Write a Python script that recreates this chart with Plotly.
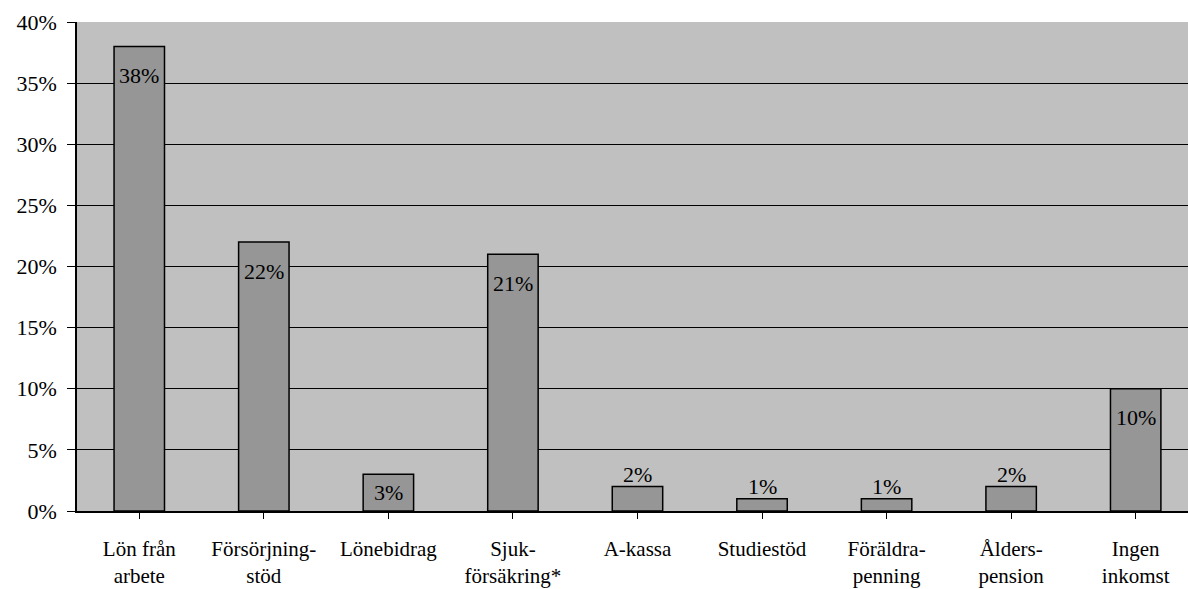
import plotly.graph_objects as go

# Income sources (share of respondents)
categories = ["Lön från<br>arbete", "Försörjning-<br>stöd", "Lönebidrag", "Sjuk-<br>försäkring*",
              "A-kassa", "Studiestöd", "Föräldra-<br>penning", "Ålders-<br>pension", "Ingen<br>inkomst"]
values = [38, 22, 3, 21, 2, 1, 1, 2, 10]
inside = [True, True, True, True, False, False, False, False, True]
y_ticks = [0, 5, 10, 15, 20, 25, 30, 35, 40]

FONT = "'Liberation Serif', 'Times New Roman', 'DejaVu Serif', serif"
W, H = 1188, 589
M_L, M_R, M_T, M_B = 77, 0, 22, 78
Y_MAX = 40
px_per_unit = (H - M_T - M_B) / Y_MAX

x = list(range(len(categories)))

fig = go.Figure(go.Bar(
    x=x, y=values, width=0.405,
    marker=dict(color="#969696", line=dict(color="#000000", width=1.5)),
    hoverinfo="skip",
))

# value labels: inside near the top for tall bars, above for short ones
for xi, v, ins in zip(x, values, inside):
    if ins:
        shift = -min(29, v * px_per_unit / 2)
    else:
        shift = 12
    fig.add_annotation(x=xi, y=v, text=f"{v}%", showarrow=False,
                       yanchor="middle", yshift=shift,
                       font=dict(family=FONT, size=22, color="#000000"))

fig.update_layout(
    width=W, height=H,
    margin=dict(l=M_L, r=M_R, t=M_T, b=M_B, pad=0),
    paper_bgcolor="#ffffff", plot_bgcolor="#c0c0c0",
    showlegend=False,
    font=dict(family=FONT, color="#000000"),
    xaxis=dict(
        range=[-0.5, 8.42], tickmode="array", tickvals=x, ticktext=categories,
        tickson="boundaries", ticks="outside", ticklen=6, tickcolor="#000000", tickwidth=1,
        showline=True, linecolor="#000000", linewidth=1.5, showgrid=False,
        tickfont=dict(family=FONT, size=21, color="#000000"), ticklabelstandoff=12,
        fixedrange=True,
    ),
    yaxis=dict(
        range=[0, Y_MAX], tickmode="array", tickvals=y_ticks,
        ticktext=[f"{t}%" for t in y_ticks],
        ticks="outside", ticklen=8, tickcolor="#000000", tickwidth=1,
        showline=True, linecolor="#000000", linewidth=1.5,
        showgrid=True, gridcolor="#000000", gridwidth=1, zeroline=False,
        tickfont=dict(family=FONT, size=22, color="#000000"), ticklabelstandoff=6,
        fixedrange=True,
    ),
)

fig.write_html("out.html", config={"displayModeBar": False})
